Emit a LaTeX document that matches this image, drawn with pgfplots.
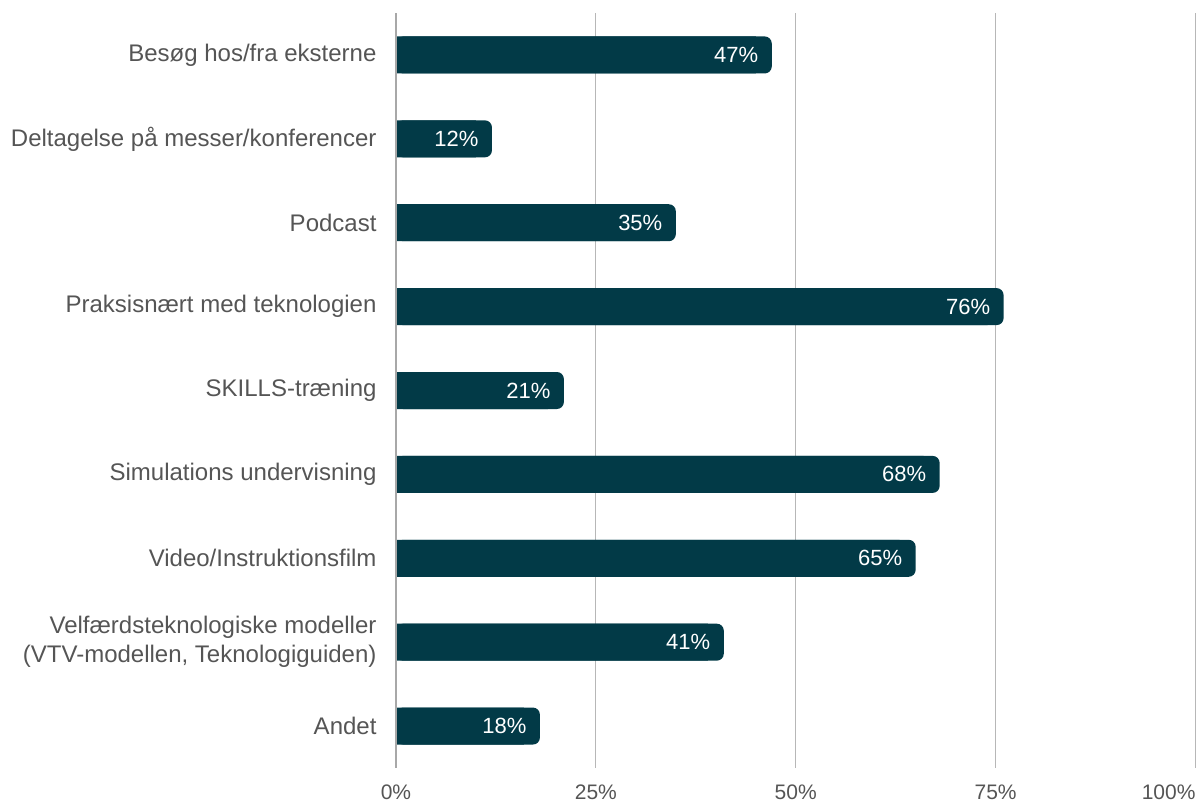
\documentclass[border=0pt]{standalone}
\usepackage{pgfplots}
\pgfplotsset{compat=1.18}
\usepackage{fontspec}
\setmainfont{Liberation Sans}
\definecolor{barc}{HTML}{023A47}
\definecolor{lblc}{HTML}{555555}
\definecolor{gridc}{HTML}{B7B7B7}
\definecolor{axlc}{HTML}{A8A8A8}
\begin{document}
\begin{tikzpicture}[x=1pt,y=1pt]
\useasboundingbox (0,0) rectangle (1203,803);
\begin{axis}[
  at={(396pt,35pt)}, anchor=south west,
  scale only axis, width=799.5pt, height=755pt,
  xbar, bar width=37pt, bar shift=0pt,
  xmin=0, xmax=100, ymin=-0.5, ymax=8.5, y dir=reverse,
  xtick={0,25,50,75,100},
  xticklabels={0\%,25\%,50\%,75\%,\llap{100\%}},
  ytick={0,...,8},
  yticklabels={Besøg hos/fra eksterne,Deltagelse på messer/konferencer,Podcast,Praksisnært med teknologien,SKILLS-træning,Simulations undervisning,Video/Instruktionsfilm,{Velfærdsteknologiske modeller\\(VTV-modellen, Teknologiguiden)},Andet},
  yticklabel style={align=right, text=lblc, font=\fontsize{24}{29}\selectfont, xshift=-16pt},
  xticklabel style={text=lblc, font=\fontsize{21}{24}\selectfont, yshift=-13pt},
  major tick length=0pt,
  axis line style={draw=none},
  xmajorgrids, grid style={draw=gridc, line width=1pt},
  clip=false,
  /pgf/number format/assume math mode=true,
]
\addplot[fill=barc, draw=none, rounded corners=7pt,
  nodes near coords={\pgfmathprintnumber{\pgfplotspointmeta}\%},
  every node near coord/.style={anchor=east, text=white, font=\fontsize{22}{26}\selectfont, xshift=-10pt}]
  coordinates {(47,0) (12,1) (35,2) (76,3) (21,4) (68,5) (65,6) (41,7) (18,8)};
\addplot[fill=barc, draw=none]
  coordinates {(45,0) (10,1) (33,2) (74,3) (19,4) (66,5) (63,6) (39,7) (16,8)};
\draw[axlc, line width=2.5pt] (axis cs:0,-0.5) -- (axis cs:0,8.5);
\end{axis}
\end{tikzpicture}
\end{document}
